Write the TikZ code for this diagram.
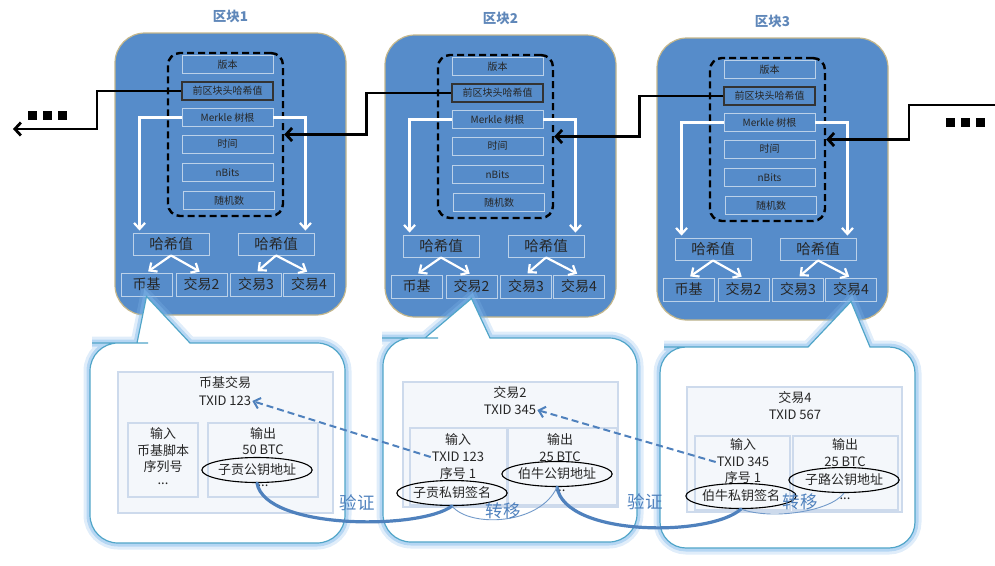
\documentclass[tikz,border=0pt]{standalone}
\usepackage{fontspec}
\setmainfont{Noto Sans CJK SC}
\usetikzlibrary{arrows.meta, positioning, shapes.geometric}

\definecolor{blockblue}{RGB}{86,140,202}
\definecolor{blockrim}{RGB}{196,183,140}
\definecolor{titleblue}{RGB}{95,135,185}
\definecolor{linkblue}{RGB}{79,129,189}
\definecolor{bubblerim}{RGB}{80,165,200}
\definecolor{glowblue}{RGB}{130,185,235}
\definecolor{panelfill}{RGB}{244,247,251}
\definecolor{panelrim}{RGB}{205,218,236}

\begin{document}
\begin{tikzpicture}[
    x=1pt, y=-1pt,
    blockbox/.style={
        draw=blockrim,
        line width=1.2pt,
        fill=blockblue,
        rounded corners=30pt,
        minimum width=231pt,
        minimum height=282pt,
        inner sep=0pt,
    },
    blocktitle/.style={
        text=titleblue,
        font=\fontsize{13.5}{15}\selectfont\bfseries,
    },
    hdrbox/.style={
        draw=black,
        line width=2.4pt,
        dash pattern=on 7pt off 4pt,
        rounded corners=12pt,
        minimum width=115pt,
        minimum height=163pt,
    },
    field/.style={
        draw=white,
        draw opacity=0.6,
        line width=0.9pt,
        minimum width=91pt,
        minimum height=18pt,
        inner sep=0pt,
        text=black!85,
        font=\fontsize{10}{11}\selectfont,
    },
    prevfield/.style={field, draw=black!80, draw opacity=1, line width=1.1pt},
    hashbox/.style={field, minimum width=76pt, minimum height=22pt, font=\fontsize{14.5}{16}\selectfont},
    leaf/.style={field, minimum width=51pt, minimum height=23pt, font=\fontsize{14}{16}\selectfont},
    whitearrow/.style={
        draw=white,
        line width=2.2pt,
        -{Straight Barb[length=6pt, width=11pt]},
        shorten >=2pt,
    },
    link/.style={
        draw=black,
        line width=2.8pt,
        -{Straight Barb[length=6pt, width=13pt]},
    },
    dots/.style={inner sep=0pt, text=black},
    bubble/.style={
        draw=bubblerim,
        line width=1.2pt,
        fill=white,
        preaction={draw=glowblue, line width=13pt, draw opacity=0.25},
        preaction={draw=glowblue, line width=7pt, draw opacity=0.45},
    },
    panel/.style={draw=panelrim, line width=1.8pt, fill=panelfill, inner sep=0pt},
    cell/.style={draw=panelrim, line width=1.2pt, inner sep=0pt},
    txt/.style={
        inner sep=1pt,
        text=black!85,
        font=\fontsize{13}{15}\selectfont,
    },
    keyring/.style={
        ellipse,
        draw=black,
        line width=1.1pt,
        inner sep=0pt,
        minimum width=100pt,
        minimum height=25pt,
        text=black!85,
        font=\fontsize{13}{15}\selectfont,
    },
    verify/.style={draw=linkblue, line width=3.2pt, line cap=round},
    transfer/.style={draw=linkblue!80, line width=0.9pt},
    trace/.style={
        draw=linkblue,
        line width=2pt,
        dash pattern=on 7pt off 4pt,
        -{Straight Barb[length=6pt, width=11pt]},
    },
    note/.style={text=linkblue, font=\fontsize{17.5}{20}\selectfont}
]
    \useasboundingbox (0,0) rectangle (995,565);

    % Blocks
    \foreach \i/\bx/\by in {1/115/33, 2/385/35, 3/657/38} {
        \begin{scope}[shift={(\bx,\by)}]
            \node[blockbox] (blk\i) at (115.5,141) {};
            \node[blocktitle] (title\i) at (115.5,-17) {区块\i};
            \node[hdrbox] (hdr\i) at (110.5,101.5) {};
            \node[field] (ver\i) at (112.5,31.5) {版本};
            \node[prevfield] (prev\i) at (112.5,58) {前区块头哈希值};
            \node[field] (root\i) at (112.5,84.5) {Merkle 树根};
            \node[field] (time\i) at (112.5,111) {时间};
            \node[field] (bits\i) at (112.5,139.5) {nBits};
            \node[field] (nonce\i) at (114,167.5) {随机数};
            \node[hashbox] (hashl\i) at (56,211) {哈希值};
            \node[hashbox] (hashr\i) at (161,211) {哈希值};
            \node[leaf] (leafa\i) at (31.5,251.5) {币基};
            \node[leaf] (leafb\i) at (86.5,251.5) {交易2};
            \node[leaf] (leafc\i) at (141,251.5) {交易3};
            \node[leaf] (leafd\i) at (194,251.5) {交易4};
            \draw[whitearrow] (root\i.west) -| ([xshift=7pt]hashl\i.north west);
            \draw[whitearrow] (root\i.east) -| ([xshift=-9pt]hashr\i.north east);
            \draw[whitearrow] (hashl\i.south) -- (leafa\i.north);
            \draw[whitearrow] (hashl\i.south) -- (leafb\i.north);
            \draw[whitearrow] (hashr\i.south) -- (leafc\i.north);
            \draw[whitearrow] (hashr\i.south) -- (leafd\i.north);
        \end{scope}
    }

    % Chain links
    \coordinate (outL) at (13,129);
    \coordinate (inR) at (995,105);
    \node[dots] (moreL) at (47,115) {\rule{9pt}{9pt}\hspace{6pt}\rule{9pt}{9pt}\hspace{6pt}\rule{9pt}{9pt}};
    \node[dots] (moreR) at (965,122) {\rule{9pt}{9pt}\hspace{6pt}\rule{9pt}{9pt}\hspace{6pt}\rule{9pt}{9pt}};
    \draw[link] (prev1.west) -| ([xshift=84pt]outL) -- (outL);
    \draw[link] (prev2.west) -- ++(-85,0) |- (hdr1.east);
    \draw[link] (prev3.west) -- ++(-84,0) |- (hdr2.east);
    \draw[link] (inR) -- ++(-86,0) |- (hdr3.east);

    % Callouts
    \draw[bubble] (137,343) -- (leafa1.south) -- (190,343) -- (200,343) [rounded corners=28pt]
        -- (345,343) -- (345,543) -- (90,543) -- (90,343) -- (120,343) [sharp corners] -- cycle;
    \draw[bubble] (425,338) -- (leafb2.south) -- (490,338) -- (500,338) [rounded corners=28pt]
        -- (637,338) -- (637,542) -- (383,542) -- (383,338) -- (410,338) [sharp corners] -- cycle;
    \draw[bubble] (808,347) -- (leafd3.south) -- (870,347) -- (880,347) [rounded corners=26pt]
        -- (915,347) -- (915,548) -- (660,548) -- (660,347) -- (690,347) [sharp corners] -- cycle;

    % Coinbase transaction
    \node[panel, minimum width=215pt, minimum height=141pt] (panel1) at (225.5,442.5) {};
    \node[cell, minimum width=70pt, minimum height=74pt] (in1) at (163,460) {};
    \node[cell, minimum width=110pt, minimum height=74pt] (out1) at (263,460) {};
    \node[txt] (head1) at (225,383) {币基交易};
    \node[txt] (txid1) at (225,401) {TXID 123};
    \node[txt] (inlbl1) at (163,434) {输入};
    \node[txt] (script1) at (163,451) {币基脚本};
    \node[txt] (seq1) at (163,467) {序列号};
    \node[txt] (inmore1) at (163,484) {...};
    \node[txt] (outlbl1) at (263,434) {输出};
    \node[txt] (amt1) at (263,450) {50 BTC};
    \node[txt] (outmore1) at (263,486) {...};
    \node[keyring] (pub1) at (257,470) {子贡公钥地址};

    % Transaction 2
    \node[panel, minimum width=215pt, minimum height=125pt] (panel2) at (510.5,444.5) {};
    \node[cell, minimum width=97pt, minimum height=77pt] (in2) at (458.5,466.5) {};
    \node[cell, minimum width=109pt, minimum height=77pt] (out2) at (562.5,466.5) {};
    \node[txt] (head2) at (510,393) {交易2};
    \node[txt] (txid2) at (510,410) {TXID 345};
    \node[txt] (inlbl2) at (458,440) {输入};
    \node[txt] (ref2) at (458,457) {TXID 123};
    \node[txt] (seq2) at (458,474) {序号 1};
    \node[txt] (outlbl2) at (560,440) {输出};
    \node[txt] (amt2) at (560,457) {25 BTC};
    \node[txt] (outmore2) at (560,491) {...};
    \node[keyring] (sig2) at (452,493) {子贡私钥签名};
    \node[keyring] (pub2) at (557,474) {伯牛公钥地址};

    % Transaction 4
    \node[panel, minimum width=215pt, minimum height=125pt] (panel3) at (794.5,449.5) {};
    \node[cell, minimum width=95pt, minimum height=74pt] (in3) at (742.5,473) {};
    \node[cell, minimum width=105pt, minimum height=74pt] (out3) at (845.5,473) {};
    \node[txt] (head3) at (795,398) {交易4};
    \node[txt] (txid3) at (795,415) {TXID 567};
    \node[txt] (inlbl3) at (743,445) {输入};
    \node[txt] (ref3) at (743,462) {TXID 345};
    \node[txt] (seq3) at (743,478) {序号 1};
    \node[txt] (outlbl3) at (845,445) {输出};
    \node[txt] (amt3) at (845,462) {25 BTC};
    \node[txt] (outmore3) at (845,499) {...};
    \node[keyring] (sig3) at (741,496) {伯牛私钥签名};
    \node[keyring] (pub3) at (844,480) {子路公钥地址};

    % Spending
    \draw[verify] (pub1.south) .. controls (265,530) and (420,530) .. (sig2.south);
    \draw[verify] (pub2.south) .. controls (565,537) and (710,537) .. (sig3.south);
    \draw[transfer] (sig2.south) .. controls (470,528) and (540,525) .. (pub2.south);
    \draw[transfer] (sig3.south) .. controls (770,520) and (830,512) .. (pub3.south);
    \draw[trace] (ref2.west) -- (txid1.east);
    \draw[trace] (ref3.west) -- (txid2.east);
    \node[note] (check1) at (357,503) {验证};
    \node[note] (check2) at (645,502) {验证};
    \node[note] (move1) at (503,511) {转移};
    \node[note] (move2) at (800,502) {转移};
\end{tikzpicture}
\end{document}
